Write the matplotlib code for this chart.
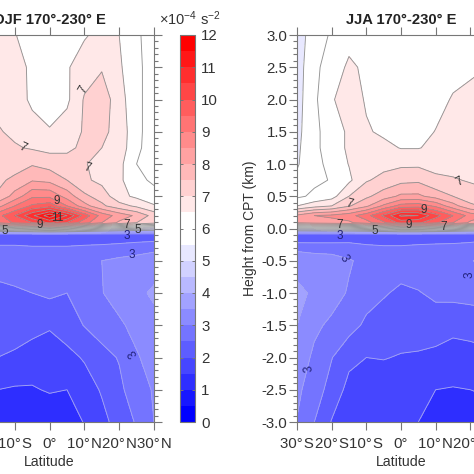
import numpy as np
import matplotlib
matplotlib.use("Agg")
import matplotlib.pyplot as plt
from matplotlib.colors import BoundaryNorm, ListedColormap

plt.rcParams['font.family'] = ['Liberation Sans', 'DejaVu Sans']
plt.rcParams['mathtext.fontset'] = 'custom'
plt.rcParams['mathtext.rm'] = 'Liberation Sans'
plt.rcParams['mathtext.default'] = 'rm'

heights = [3.0, 2.5, 2.0, 1.5, 1.25, 1.0, 0.75, 0.5, 0.35, 0.2, 0.09, -0.09,
           -0.2, -0.3, -0.5, -1.0, -1.5, -2.0, -2.5, -3.0]

djf_lats = [-15, -10, -5, 0, 5, 10, 15, 20, 25, 30]
djf_values = [
    [6.8, 6.52, 6.3, 6.2, 6.3, 6.45, 6.65, 6.5, 6.1, 5.7],
    [6.8, 6.7, 6.4, 6.2, 6.45, 6.75, 6.95, 6.58, 6.1, 5.8],
    [6.85, 6.75, 6.4, 6.2, 6.4, 7.05, 7.3, 6.7, 6.15, 5.7],
    [7.05, 6.9, 6.7, 6.55, 6.75, 7.05, 7.1, 6.85, 6.1, 5.8],
    [7.15, 7.05, 6.95, 6.85, 6.9, 7.1, 7.0, 6.8, 6.1, 5.75],
    [7.25, 7.3, 7.45, 7.3, 7.2, 7.03, 6.85, 6.65, 6.0, 5.7],
    [7.4, 7.6, 7.95, 7.85, 7.5, 7.1, 6.85, 6.6, 6.15, 5.9],
    [7.55, 8.2, 8.9, 8.9, 8.3, 7.6, 7.3, 6.65, 6.4, 6.2],
    [8.3, 9.0, 9.6, 9.8, 9.0, 8.2, 7.6, 7.2, 6.9, 6.55],
    [9.3, 10.0, 10.9, 11.8, 11.0, 9.8, 8.8, 8.3, 7.9, 7.3],
    [9.0, 9.6, 10.0, 10.6, 10.0, 9.2, 8.5, 7.9, 7.5, 7.2],
    [2.3, 2.3, 2.3, 2.3, 2.3, 2.3, 2.3, 2.3, 2.3, 2.3],
    [2.35, 2.35, 2.35, 2.35, 2.35, 2.35, 2.35, 2.4, 2.45, 2.5],
    [2.6, 2.6, 2.55, 2.55, 2.55, 2.6, 2.65, 2.7, 2.8, 2.9],
    [2.75, 2.8, 2.75, 2.7, 2.75, 2.85, 3.0, 3.1, 3.15, 3.2],
    [2.35, 2.42, 2.5, 2.6, 2.5, 2.7, 2.98, 3.2, 3.35, 3.6],
    [2.4, 2.3, 2.15, 2.05, 2.25, 2.52, 2.7, 2.92, 3.15, 3.3],
    [2.0, 1.9, 1.8, 1.75, 1.85, 2.05, 2.35, 2.53, 2.95, 3.2],
    [1.5, 1.45, 1.45, 1.55, 1.5, 1.75, 2.05, 2.4, 2.75, 3.05],
    [1.3, 1.2, 1.15, 1.1, 1.2, 1.53, 1.85, 2.2, 2.55, 3.0],
]

jja_lats = [-30, -25, -20, -15, -10, -5, 0, 5, 10, 15, 20, 25]
jja_values = [
    [5.2, 5.8, 6.05, 6.3, 6.4, 6.3, 6.2, 6.2, 6.2, 6.2, 6.3, 6.4],
    [5.25, 5.9, 6.2, 6.6, 6.4, 6.25, 6.2, 6.2, 6.25, 6.3, 6.4, 6.5],
    [5.3, 5.9, 6.45, 6.75, 6.45, 6.3, 6.2, 6.2, 6.3, 6.55, 6.65, 6.7],
    [5.35, 5.9, 6.2, 6.6, 6.55, 6.42, 6.3, 6.3, 6.52, 6.6, 6.7, 6.8],
    [5.4, 5.9, 6.2, 6.6, 6.75, 6.62, 6.48, 6.48, 6.6, 6.72, 6.8, 6.85],
    [5.45, 5.85, 6.15, 6.52, 6.7, 6.85, 6.9, 6.9, 6.85, 6.8, 6.78, 6.8],
    [5.6, 5.9, 6.03, 6.4, 6.95, 7.15, 7.35, 7.4, 7.1, 7.05, 6.95, 6.9],
    [5.9, 6.1, 6.3, 7.0, 7.4, 7.75, 8.1, 8.1, 7.8, 7.5, 7.25, 7.1],
    [6.5, 6.8, 7.0, 7.45, 7.9, 8.6, 9.2, 9.3, 8.9, 8.2, 7.6, 7.4],
    [8.1, 8.5, 8.6, 8.8, 9.3, 10.1, 11.1, 11.0, 10.2, 9.5, 8.8, 8.5],
    [8.0, 8.2, 8.3, 8.4, 8.8, 9.4, 10.2, 10.1, 9.6, 9.0, 8.4, 8.2],
    [2.3, 2.3, 2.3, 2.3, 2.3, 2.3, 2.3, 2.3, 2.3, 2.3, 2.3, 2.3],
    [2.4, 2.4, 2.4, 2.45, 2.4, 2.4, 2.4, 2.4, 2.4, 2.4, 2.45, 2.55],
    [2.9, 2.85, 2.85, 2.7, 2.6, 2.55, 2.55, 2.6, 2.65, 2.7, 2.75, 2.8],
    [3.25, 3.2, 3.15, 3.05, 2.85, 2.8, 2.75, 2.8, 2.85, 2.9, 2.98, 3.1],
    [3.65, 3.4, 3.2, 2.95, 2.7, 2.55, 2.4, 2.47, 2.6, 2.65, 2.7, 2.75],
    [3.5, 3.1, 2.9, 2.7, 2.4, 2.25, 2.2, 2.2, 2.25, 2.13, 2.15, 2.2],
    [3.3, 2.9, 2.52, 2.12, 2.0, 2.02, 1.97, 1.95, 1.87, 1.8, 1.85, 1.9],
    [3.1, 2.75, 2.3, 1.85, 1.75, 1.75, 1.7, 1.6, 1.5, 1.47, 1.5, 1.55],
    [2.98, 2.5, 1.97, 1.8, 1.7, 1.65, 1.6, 1.5, 1.3, 1.2, 1.25, 1.3],
]

lat_ticks = [-30, -20, -10, 0, 10, 20, 30]
lat_labels = ['30°\u200aS', '20°\u200aS', '10°\u200aS', '0°', '10°\u200aN', '20°\u200aN', '30°\u200aN']
height_ticks = [3.0, 2.5, 2.0, 1.5, 1.0, 0.5, 0.0, -0.5, -1.0, -1.5, -2.0, -2.5, -3.0]
colorbar_ticks = list(range(13))

# blue fading to white, two white cells around 6, then white fading to red
blues = [(i / 11, i / 11, 1.0) for i in range(11)]
reds = [(1.0, 1 - i / 11, 1 - i / 11) for i in range(1, 12)]
cmap = ListedColormap(blues + [(1, 1, 1), (1, 1, 1)] + reds)
levels = np.arange(0, 12.01, 0.5)
norm = BoundaryNorm(levels, cmap.N)
line_levels = levels[1:-1]
line_colors = []
for v in line_levels:
    if v >= 8:
        line_colors.append('#a98c8c')
    elif v >= 4:
        line_colors.append('#939393')
    else:
        line_colors.append('#a4a4f4')

W = 474
EDGE = '#777777'
TEXT = '#333333'
FS = 10.8


def px_axes(fig, left, top, right, bottom):
    return fig.add_axes([left / W, 1 - bottom / W, (right - left) / W, (bottom - top) / W])


def draw_panel(ax, lats, values, title):
    z = np.array(values)
    cf = ax.contourf(lats, heights, z, levels=levels, cmap=cmap, norm=norm)
    ax.contour(lats, heights, z, levels=line_levels, colors=line_colors, linewidths=0.65)
    ax.set_xlim(-30, 30)
    ax.set_ylim(-3, 3)
    ax.set_xticks(lat_ticks)
    ax.set_xticklabels(lat_labels)
    ax.set_yticks(height_ticks)
    ax.set_yticklabels(['%.1f' % h for h in height_ticks])
    ax.set_yticks(np.arange(-3, 3.01, 0.1), minor=True)
    ax.tick_params(axis='x', which='major', top=True, direction='out', length=5.5, width=0.8,
                   color=EDGE, labelcolor=TEXT, labelsize=FS, pad=5.5)
    ax.tick_params(axis='y', which='major', left=True, right=True, direction='out', length=5.5, width=0.8,
                   color=EDGE, labelcolor=TEXT, labelsize=FS, pad=1.5)
    ax.tick_params(axis='y', which='minor', left=True, right=True, direction='out', length=3, width=0.8,
                   color=EDGE)
    for spine in ax.spines.values():
        spine.set_color(EDGE)
        spine.set_linewidth(0.8)
    ax.set_xlabel('Latitude', fontsize=10.2, color=TEXT, labelpad=2.5)
    ax.set_title(title, fontsize=10.6, fontweight='bold', color='#222222', pad=8)
    return cf


fig = plt.figure(figsize=(4.74, 4.74), dpi=100)

ax_djf = px_axes(fig, -54.8, 35, 154, 422)
ax_jja = px_axes(fig, 297, 35, 505, 422)
cf = draw_panel(ax_djf, djf_lats, djf_values, 'DJF 170°-230° E')
draw_panel(ax_jja, jja_lats, jja_values, 'JJA 170°-230° E')
ax_jja.set_ylabel('Height from CPT (km)', fontsize=10, color=TEXT, labelpad=3)

cax = px_axes(fig, 180, 35, 195, 422)
cbar = fig.colorbar(cf, cax=cax, ticks=colorbar_ticks)
cbar.outline.set_edgecolor(EDGE)
cbar.outline.set_linewidth(0.8)
cax.minorticks_off()
cax.tick_params(axis='y', left=True, right=True, direction='in', length=2.5, width=0.7,
                color=EDGE, labelcolor=TEXT, labelsize=FS, pad=4.5)
fig.text(159 / W, 1 - 19 / W, r'$\times$10$^{-4}$ s$^{-2}$', fontsize=10.5, color=TEXT, va='center')

# contour labels, (text, x px, y px, rotation, colour)
dark = '#333333'
navy = '#22227a'
contour_labels = [
    ('5', 5, 231, 0, dark), ('9', 40, 225, 0, dark), ('11', 57, 218, 0, dark),
    ('9', 57, 201, 0, dark), ('7', 127, 225, 0, dark), ('3', 127, 236, 0, navy),
    ('5', 138, 230, 0, dark), ('3', 132, 255, 0, navy), ('3', 133, 353, 125, navy),
    ('7', 23, 148, -25, dark), ('7', 83, 90, 60, dark), ('7', 87, 168, -15, dark),
    ('7', 460, 182, 30, dark), ('7', 349, 204, -15, dark), ('9', 424, 210, 0, dark),
    ('9', 409, 225, 0, dark), ('7', 444, 227, 0, dark), ('7', 340, 225, 0, dark),
    ('3', 340, 236, 0, navy), ('5', 375, 231, 0, dark), ('3', 344, 258, -60, navy),
    ('3', 470, 275, 90, navy), ('3', 309, 368, 100, navy),
]
for label, x, y, rot, color in contour_labels:
    fig.text(x / W, 1 - y / W, label, fontsize=8.5, color=color, rotation=rot,
             ha='center', va='center')

fig.savefig('out.png', dpi=100)
